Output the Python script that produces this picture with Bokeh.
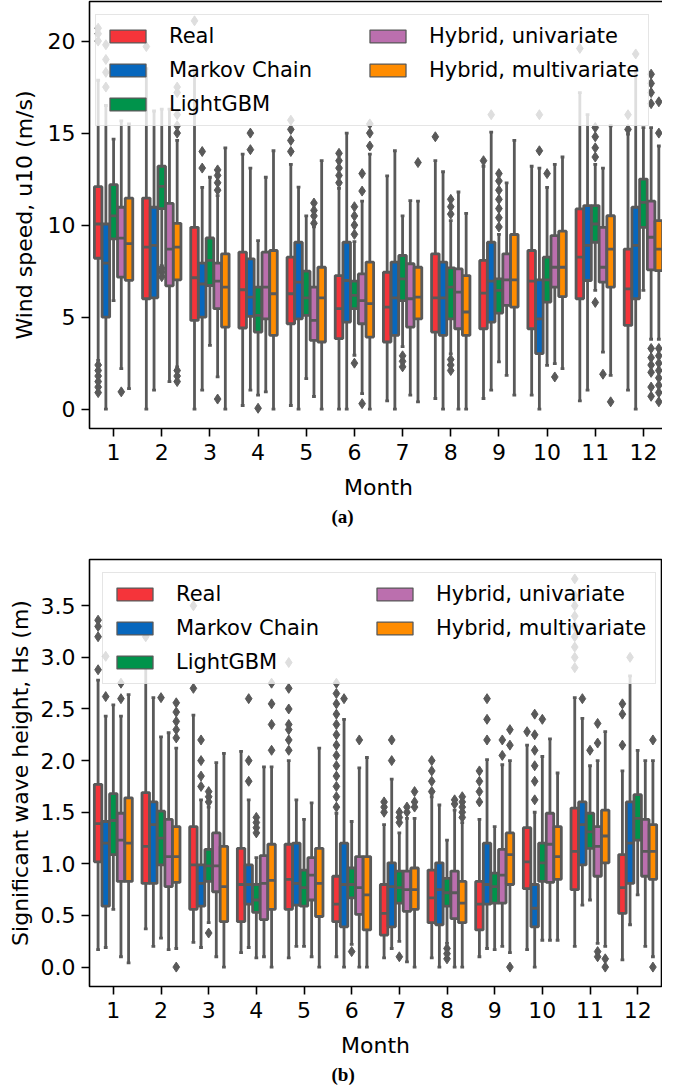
from bokeh.plotting import figure
from bokeh.models import (ColumnDataSource, Range1d, FixedTicker, Legend,
                          LegendItem, Title, PrintfTickFormatter)
from bokeh.layouts import column
from bokeh.embed import file_html
from bokeh.resources import INLINE

MONTHS = list(range(1, 13))
SERIES = ["Real", "Markov Chain", "LightGBM", "Hybrid, univariate", "Hybrid, multivariate"]
COLORS = ["#f5343a", "#0767bd", "#00934b", "#bb6fae", "#ff8c00"]

# ---------------- (a) wind speed: one row per series, 12 months ----------------
WIND_Q1 = [
    [8.2, 6.0, 4.82, 4.41, 4.64, 3.83, 3.65, 4.19, 4.37, 4.37, 6.0, 4.55],
    [5.0, 6.05, 5.0, 5.04, 4.91, 4.73, 4.01, 4.01, 4.73, 3.02, 6.99, 6.0],
    [9.25, 10.9, 6.72, 4.19, 5.1, 5.46, 5.9, 4.91, 5.22, 5.82, 9.07, 9.88],
    [7.17, 6.7, 5.46, 4.91, 3.74, 4.64, 4.46, 4.37, 5.64, 6.63, 6.9, 7.57],
    [7.0, 7.03, 4.46, 4.01, 3.65, 3.92, 4.91, 4.01, 5.55, 6.12, 6.63, 7.53],
]
WIND_MED = [
    [10.06, 8.8, 7.14, 6.49, 6.27, 5.46, 5.55, 6.05, 6.3, 6.96, 8.26, 6.54],
    [7.93, 8.9, 6.8, 6.09, 6.9, 6.99, 6.05, 6.05, 6.96, 4.91, 8.9, 8.9],
    [10.5, 12.1, 8.08, 5.1, 6.05, 6.18, 7.08, 6.63, 6.45, 7.03, 10.06, 11.24],
    [9.29, 8.7, 6.96, 6.63, 4.82, 5.9, 6.0, 6.36, 7.03, 7.71, 7.71, 9.34],
    [9.0, 8.8, 6.63, 6.27, 6.05, 5.73, 6.09, 5.28, 7.03, 7.71, 8.7, 8.7],
]
WIND_Q3 = [
    [12.09, 11.47, 9.88, 8.53, 8.26, 7.26, 7.44, 8.44, 8.08, 8.62, 10.88, 8.7],
    [10.06, 10.97, 7.93, 8.17, 9.07, 9.07, 7.99, 7.99, 9.07, 7.03, 11.06, 10.97],
    [12.2, 13.2, 9.3, 6.63, 7.5, 6.96, 8.35, 7.68, 7.08, 8.26, 11.06, 12.5],
    [10.97, 11.18, 7.93, 8.53, 6.63, 7.35, 7.9, 7.62, 8.44, 9.43, 9.88, 11.3],
    [11.47, 10.1, 8.44, 8.62, 7.71, 7.99, 7.71, 7.26, 9.49, 9.67, 10.51, 10.24],
]
WIND_LO = [
    [2.65, 0.0, 0.0, 0.2, 0.2, 0.0, 0.45, 0.58, 0.58, 0.76, 0.45, 1.03],
    [0.0, 1.03, 1.03, 1.03, 0.0, 0.0, 0.0, 0.0, 1.03, 0.0, 1.03, 0.0],
    [5.9, 7.8, 3.47, 0.76, 1.66, 2.93, 3.4, 3.0, 2.57, 2.38, 6.45, 6.45],
    [2.2, 1.5, 1.75, 0.94, 0.69, 0.85, 0.76, 0.0, 1.84, 2.47, 3.1, 3.8],
    [1.12, 2.3, 0.0, 0.0, 0.0, 0.0, 0.4, 0.0, 0.76, 2.2, 1.84, 3.8],
]
WIND_HI = [
    [17.87, 18.5, 18.5, 13.86, 13.3, 12.0, 12.68, 13.5, 13.2, 13.2, 17.2, 14.94],
    [16.5, 16.2, 12.05, 13.1, 12.06, 15.0, 14.04, 12.9, 15.05, 13.1, 16.0, 18.6],
    [14.67, 16.3, 12.6, 9.16, 10.5, 9.1, 10.5, 10.24, 9.5, 12.05, 13.3, 15.3],
    [15.66, 16.3, 11.6, 12.6, 9.9, 11.3, 11.33, 11.8, 12.3, 13.3, 13.1, 15.3],
    [15.5, 14.6, 14.2, 14.04, 13.5, 13.86, 11.3, 10.64, 14.6, 13.7, 15.4, 14.3],
]
WIND_OUT_MONTH = (
    [1] * 14 + [2] * 12 + [3] * 8 + [4] * 3 + [5] * 8 + [6] * 16 + [7] * 4
    + [8] * 7 + [9] * 9 + [10] * 4 + [11] * 8 + [12] * 23
)
WIND_OUT_SERIES = (
    [0] * 9 + [1] * 4 + [3]
    + [0] + [2] * 3 + [4] * 8
    + [0] + [1] * 2 + [3] * 5
    + [1] * 2 + [2]
    + [0] * 4 + [3] * 4
    + [0] * 5 + [2] * 5 + [3] * 3 + [4] * 3
    + [2] * 3 + [4]
    + [0] + [2] * 6
    + [0] + [1] + [2] * 7
    + [1] * 2 + [2] + [3]
    + [0] + [2] * 5 + [3] + [4]
    + [0] * 2 + [1] + [3] * 10 + [4] * 10
)
WIND_OUT_VALUE = (
    [20.0, 20.4, 20.7, 0.9, 1.2, 1.5, 1.8, 2.1, 2.4, 17.5, 18.3, 19.0, 19.8, 0.94]
    + [19.7, 7.2, 7.45, 7.65, 15.0, 15.4, 16.0, 17.2, 17.5, 1.5, 1.8, 2.1]
    + [21.1, 13.1, 14.0, 11.9, 12.3, 12.7, 13.0, 0.55]
    + [14.1, 15.0, 0.05]
    + [14.0, 14.6, 15.2, 15.7, 10.1, 10.5, 10.8, 11.2]
    + [12.3, 12.7, 13.1, 13.5, 13.9, 9.5, 10.0, 10.5, 11.0, 2.5, 11.85, 12.8, 0.3, 14.3, 15.0, 15.5]
    + [2.3, 2.6, 2.9, 13.4]
    + [14.8, 10.6, 11.0, 11.4, 2.1, 2.4, 2.7]
    + [13.5, 16.0, 9.9, 10.4, 10.9, 11.4, 11.9, 12.4, 12.8]
    + [14.04, 16.0, 12.8, 1.75]
    + [19.6, 13.7, 14.2, 14.8, 15.3, 5.8, 1.9, 0.4]
    + [15.2, 16.0, 19.3, 16.6, 17.2, 17.7, 18.2, 0.7, 1.2, 2.0, 2.4, 2.8, 3.3,
       15.0, 16.7, 0.4, 0.9, 1.3, 1.7, 2.1, 2.5, 2.9, 3.3]
)
WIND_YTICKS = [0, 5, 10, 15, 20]

# ---------------- (b) significant wave height ----------------
WAVE_Q1 = [
    [1.02, 0.81, 0.56, 0.44, 0.56, 0.44, 0.31, 0.43, 0.36, 0.76, 0.75, 0.52],
    [0.59, 0.81, 0.59, 0.61, 0.60, 0.39, 0.39, 0.41, 0.61, 0.39, 0.99, 0.81],
    [1.09, 0.99, 0.83, 0.53, 0.59, 0.67, 0.62, 0.59, 0.62, 0.83, 1.15, 1.23],
    [0.83, 0.78, 0.73, 0.46, 0.65, 0.51, 0.54, 0.47, 0.62, 0.82, 0.88, 0.88],
    [0.83, 0.82, 0.44, 0.56, 0.49, 0.36, 0.56, 0.43, 0.80, 0.85, 1.01, 0.85],
]
WAVE_MED = [
    [1.39, 1.17, 0.99, 0.80, 0.85, 0.61, 0.52, 0.67, 0.61, 1.02, 1.12, 0.77],
    [1.20, 1.38, 0.81, 0.80, 0.81, 0.80, 0.78, 0.75, 0.80, 0.57, 1.38, 1.20],
    [1.42, 1.25, 0.98, 0.65, 0.77, 0.80, 0.77, 0.72, 0.78, 1.01, 1.31, 1.44],
    [1.23, 1.07, 0.98, 0.81, 0.89, 0.77, 0.75, 0.72, 0.89, 1.19, 1.17, 1.12],
    [1.20, 1.07, 0.78, 0.84, 0.81, 0.70, 0.75, 0.62, 1.09, 1.07, 1.27, 1.12],
]
WAVE_Q3 = [
    [1.77, 1.69, 1.36, 1.15, 1.19, 0.88, 0.80, 0.94, 0.83, 1.35, 1.54, 1.09],
    [1.41, 1.60, 0.99, 0.99, 1.20, 1.20, 1.01, 1.01, 1.20, 0.80, 1.60, 1.60],
    [1.68, 1.51, 1.14, 0.80, 0.94, 0.96, 0.93, 0.86, 0.91, 1.20, 1.49, 1.67],
    [1.49, 1.43, 1.30, 1.08, 1.06, 1.07, 0.93, 0.93, 1.14, 1.49, 1.36, 1.43],
    [1.64, 1.36, 1.17, 1.19, 1.15, 1.07, 0.96, 0.83, 1.30, 1.36, 1.52, 1.38],
]
WAVE_LO = [
    [0.17, 0.37, 0.24, 0.14, 0.09, 0.10, 0.09, 0.09, 0.10, 0.17, 0.20, 0.07],
    [0.19, 0.20, 0.19, 0.19, 0.20, 0.0, 0.18, 0.0, 0.18, 0.0, 0.60, 0.41],
    [0.56, 0.28, 0.43, 0.09, 0.20, 0.22, 0.25, 0.23, 0.17, 0.26, 0.65, 0.70],
    [0.10, 0.17, 0.10, 0.10, 0.10, 0.0, 0.05, 0.0, 0.20, 0.26, 0.23, 0.20],
    [0.04, 0.18, 0.0, 0.0, 0.0, 0.0, 0.0, 0.0, 0.14, 0.26, 0.20, 0.10],
]
WAVE_HI = [
    [2.78, 2.95, 2.44, 2.09, 2.00, 1.49, 1.38, 1.65, 1.43, 2.15, 2.61, 1.90],
    [2.43, 2.61, 1.62, 1.62, 1.62, 2.40, 1.82, 1.57, 2.01, 1.50, 2.41, 2.82],
    [2.54, 2.23, 1.55, 1.06, 1.43, 1.41, 1.30, 1.23, 1.36, 2.04, 1.95, 2.10],
    [2.43, 2.27, 1.98, 1.94, 1.59, 1.93, 1.44, 1.52, 1.96, 2.21, 2.00, 2.00],
    [2.64, 2.12, 2.07, 1.94, 2.12, 2.03, 1.44, 1.40, 2.00, 1.88, 2.28, 2.00],
]
WAVE_OUT_MONTH = (
    [1] * 8 + [2] * 8 + [3] * 10 + [4] * 11 + [5] * 7 + [6] * 16 + [7] * 14
    + [8] * 14 + [9] * 12 + [10] * 8 + [11] * 17 + [12] * 6
)
WAVE_OUT_SERIES = (
    [0] * 4 + [1] * 2 + [3] * 2
    + [0] + [2] + [4] * 6
    + [0] * 2 + [1] * 4 + [2] * 4
    + [1] * 3 + [2] * 4 + [4] * 4
    + [0] * 7
    + [0] * 13 + [1] + [2] + [3]
    + [0] * 3 + [1] * 2 + [2] * 4 + [3] * 2 + [4] * 3
    + [0] * 4 + [2] * 3 + [3] * 2 + [4] * 5
    + [0] * 4 + [1] * 3 + [3] * 2 + [4] * 3
    + [0] + [1] * 6 + [2]
    + [0] * 9 + [1] + [2] + [3] * 4 + [4] * 2
    + [0] * 3 + [1] + [4] * 2
)
WAVE_OUT_VALUE = (
    [2.88, 3.2, 3.3, 3.36, 2.62, 3.01, 2.6, 2.75]
    + [3.2, 2.61, 2.22, 2.3, 2.38, 2.47, 2.56, 0.0]
    + [2.7, 3.5, 1.75, 1.85, 2.0, 2.2, 1.6, 1.65, 1.7, 0.33]
    + [1.8, 2.0, 2.6, 1.3, 1.35, 1.4, 1.45, 2.1, 2.35, 2.55, 2.75]
    + [2.1, 2.2, 2.3, 2.35, 2.5, 2.7, 2.95]
    + [1.55, 1.65, 1.75, 1.85, 1.95, 2.05, 2.15, 2.25, 2.35, 2.45, 2.55, 2.65, 2.75, 2.6, 0.15, 2.2]
    + [1.5, 1.55, 1.6, 2.0, 2.2, 1.4, 1.45, 1.5, 0.1, 1.5, 1.55, 1.55, 1.6, 1.7]
    + [1.7, 1.8, 1.9, 2.0, 0.08, 0.13, 0.18, 1.58, 1.62, 1.45, 1.5, 1.55, 1.6, 1.65]
    + [1.6, 1.7, 1.8, 1.9, 2.2, 2.4, 2.6, 2.05, 2.2, 2.15, 2.3, 0.0]
    + [2.28, 1.62, 1.8, 1.95, 2.1, 2.25, 2.45, 2.4]
    + [2.9, 3.0, 3.1, 3.2, 3.3, 3.4, 3.5, 3.6, 3.76, 2.6, 2.1, 2.17, 2.36, 0.1, 0.15, 0.0, 0.08]
    + [2.15, 2.45, 2.55, 3.0, 2.2, 0.0]
)
WAVE_YTICKS = [0.0, 0.5, 1.0, 1.5, 2.0, 2.5, 3.0, 3.5]

GRAY = "#595959"
FONT = "DejaVu Sans"
HUE_STEP = 0.16
BOX_W = HUE_STEP * 0.98
NAN = float("nan")


def make_panel(q1, med, q3, lo, hi, om, osr, ov, ylo, yhi, yticks, ylabel,
               fmt, sub, border_left, frame_w, border_top, border_bottom, ylab_standoff):
    p = figure(output_backend="svg", toolbar_location=None,
               frame_width=frame_w, frame_height=427,
               min_border_left=border_left, min_border_right=1,
               min_border_top=border_top, min_border_bottom=border_bottom,
               x_range=Range1d(0.5, 12.5), y_range=Range1d(ylo, yhi))
    p.grid.visible = False
    p.outline_line_color = "black"
    p.outline_line_width = 1.6
    p.background_fill_color = "white"

    for ax in (p.xaxis[0], p.yaxis[0]):
        ax.axis_line_color = None
        ax.major_tick_line_color = "black"
        ax.major_tick_line_width = 1.6
        ax.major_tick_out = 8
        ax.major_tick_in = 0
        ax.minor_tick_line_color = None
        ax.major_label_text_font = FONT
        ax.major_label_text_font_size = "22px"
        ax.major_label_text_color = "black"
        ax.axis_label_text_font = FONT
        ax.axis_label_text_font_size = "22px"
        ax.axis_label_text_font_style = "normal"
        ax.axis_label_text_color = "black"

    p.xaxis[0].ticker = FixedTicker(ticks=MONTHS)
    p.xaxis[0].axis_label = "Month"
    p.xaxis[0].major_label_standoff = 7
    p.xaxis[0].axis_label_standoff = 12
    p.yaxis[0].ticker = FixedTicker(ticks=yticks)
    p.yaxis[0].formatter = PrintfTickFormatter(format=fmt)
    p.yaxis[0].axis_label = ylabel
    p.yaxis[0].major_label_standoff = 6
    p.yaxis[0].axis_label_standoff = ylab_standoff

    legend_items = []
    for i, name in enumerate(SERIES):
        xs = [m + (i - 2) * HUE_STEP for m in MONTHS]
        src = ColumnDataSource(dict(
            x=xs,
            left=[x - BOX_W / 2 for x in xs],
            right=[x + BOX_W / 2 for x in xs],
            cl=[x - BOX_W / 4 for x in xs],
            cr=[x + BOX_W / 4 for x in xs],
            q1=q1[i], med=med[i], q3=q3[i], lo=lo[i], hi=hi[i],
        ))
        p.segment(x0="x", x1="x", y0="q3", y1="hi", source=src,
                  line_color=GRAY, line_width=2.8)
        p.segment(x0="x", x1="x", y0="q1", y1="lo", source=src,
                  line_color=GRAY, line_width=2.8)
        p.segment(x0="cl", x1="cr", y0="hi", y1="hi", source=src,
                  line_color=GRAY, line_width=2.8)
        p.segment(x0="cl", x1="cr", y0="lo", y1="lo", source=src,
                  line_color=GRAY, line_width=2.8)
        p.quad(left="left", right="right", bottom="q1", top="q3", source=src,
               fill_color=COLORS[i], line_color=GRAY, line_width=2.8)
        p.segment(x0="left", x1="right", y0="med", y1="med", source=src,
                  line_color=GRAY, line_width=2.8)

        fx = [m + (s - 2) * HUE_STEP for m, s in zip(om, osr) if s == i]
        fy = [v for v, s in zip(ov, osr) if s == i]
        p.scatter(x=fx, y=fy, marker="diamond", size=10,
                  fill_color=GRAY, line_color=GRAY, line_width=1)

        # legend swatch only (no drawable coordinates)
        dummy = p.quad(left=[NAN], right=[NAN], bottom=[NAN], top=[NAN],
                       fill_color=COLORS[i], line_color=GRAY, line_width=1.3)
        legend_items.append(LegendItem(label=name, renderers=[dummy]))

    leg = Legend(items=legend_items, location="top_left", ncols=2,
                 margin=13, padding=9, spacing=10,
                 glyph_width=45, glyph_height=16, label_standoff=19,
                 label_width=186,
                 label_text_font=FONT, label_text_font_size="21px",
                 label_text_color="black",
                 background_fill_color="white", background_fill_alpha=0.8,
                 border_line_color="#cccccc", border_line_width=1.5)
    p.add_layout(leg)

    t = Title(text=sub, align="left", offset=242,
              text_font="Liberation Serif", text_font_style="bold",
              text_font_size="19px", text_color="black", standoff=2)
    p.add_layout(t, "below")
    return p


p1 = make_panel(WIND_Q1, WIND_MED, WIND_Q3, WIND_LO, WIND_HI,
                WIND_OUT_MONTH, WIND_OUT_SERIES, WIND_OUT_VALUE,
                -1.05, 22.15, WIND_YTICKS, "Wind speed, u10 (m/s)", "%d", "(a)",
                83, 578, 1, 104, 8)
p2 = make_panel(WAVE_Q1, WAVE_MED, WAVE_Q3, WAVE_LO, WAVE_HI,
                WAVE_OUT_MONTH, WAVE_OUT_SERIES, WAVE_OUT_VALUE,
                -0.188, 3.948, WAVE_YTICKS, "Significant wave height, Hs (m)", "%.1f", "(b)",
                89, 572, 27, 87, 5)

layout = column(p1, p2, spacing=0)
open("out.html", "w").write(file_html(layout, INLINE))
